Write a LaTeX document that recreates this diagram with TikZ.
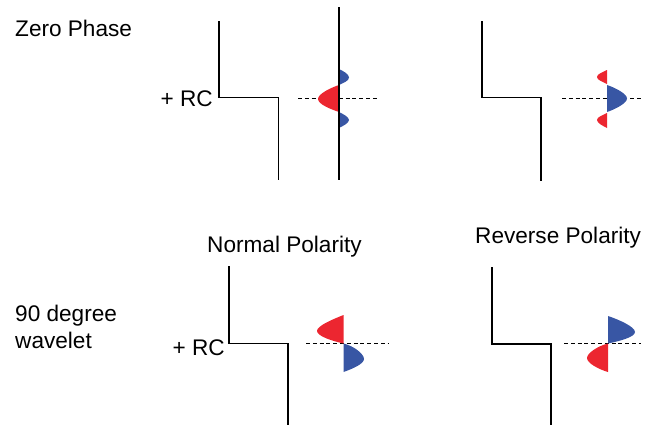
\documentclass[tikz,border=0pt]{standalone}
\usepackage{fontspec}
\setmainfont{Liberation Sans}
\definecolor{lobered}{RGB}{236,38,48}
\definecolor{lobeblue}{RGB}{56,86,164}

\begin{document}
\begin{tikzpicture}[x=1pt, y=-1pt,
    label/.style={font=\fontsize{22.6}{26.5}\selectfont, inner sep=0pt},
    stepline/.style={line width=1.8pt, line join=miter},
    zeroline/.style={dashed, dash pattern=on 4pt off 2.8pt, line width=0.9pt}]
            \useasboundingbox (0, 0) rectangle (651, 426);
            % titles
            \node[label, anchor=base west] (zero) at (15, 36) {Zero Phase};
            \node[label, anchor=north west, align=left] (ninety) at (15, 305) {90 degree\\wavelet};
            \node[label, anchor=base west] (normal) at (207, 252) {Normal Polarity};
            \node[label, anchor=base west] (reverse) at (475, 243) {Reverse Polarity};
            \node[label, anchor=base east] (rcA) at (213, 106) {+ RC};
            \node[label, anchor=base east] (rcB) at (225, 355) {+ RC};
            % reflection steps
            \draw[stepline] (219, 21) -- (219, 97.5) -- (278.5, 97.5) -- (278.5, 180);
            \draw[stepline] (482, 21) -- (482, 97.5) -- (541, 97.5) -- (541, 181);
            \draw[stepline] (229, 266) -- (229, 343.5) -- (288, 343.5) -- (288, 425);
            \draw[stepline] (492, 267) -- (492, 344) -- (551, 344) -- (551, 425);
            % zero lines
            \draw[zeroline] (298, 98.5) -- (379, 98.5);
            \draw[zeroline] (562, 98.5) -- (641, 98.5);
            \draw[zeroline] (306, 343.5) -- (388, 343.5);
            \draw[zeroline] (564, 343.5) -- (641, 343.5);
            % zero phase, normal
            \fill[lobeblue] (339, 69) .. controls (343, 71) and (349, 74) .. (349, 77.5) .. controls (349, 81) and (343, 83) .. (339, 85) -- cycle;
            \fill[lobered] (339, 85) .. controls (330, 88) and (318, 94) .. (318, 99) .. controls (318, 104) and (330, 109) .. (339, 112) -- cycle;
            \fill[lobeblue] (339, 112) .. controls (343, 114) and (349, 117) .. (349, 120) .. controls (349, 123) and (343, 126) .. (339, 128) -- cycle;
            \draw[line width=1.4pt] (339, 7) -- (339, 180);
            % zero phase, reverse
            \fill[lobered] (607, 70) .. controls (603, 72) and (597, 74) .. (597, 77) .. controls (597, 80) and (603, 82) .. (607, 84) -- cycle;
            \fill[lobeblue] (607, 85) .. controls (616, 88) and (627, 94) .. (627, 98.5) .. controls (627, 103) and (616, 109) .. (607, 112) -- cycle;
            \fill[lobered] (607, 113) .. controls (603, 115) and (597, 117) .. (597, 120) .. controls (597, 123) and (603, 126) .. (607, 128) -- cycle;
            % 90 degree, normal
            \fill[lobered] (343.5, 315) .. controls (331, 320) and (317, 326) .. (317, 331) .. controls (317, 336) and (332, 341) .. (343.5, 343.5) -- cycle;
            \fill[lobeblue] (343.5, 343.5) .. controls (354, 346) and (364, 354) .. (364, 359) .. controls (364, 364) and (352, 369) .. (343.5, 372) -- cycle;
            % 90 degree, reverse
            \fill[lobeblue] (608, 316) .. controls (620, 320) and (635, 327) .. (635, 332) .. controls (635, 337) and (620, 341) .. (608, 343.5) -- cycle;
            \fill[lobered] (608, 343.5) .. controls (598, 346) and (587, 353) .. (587, 358) .. controls (587, 363) and (598, 369) .. (608, 372) -- cycle;
        \end{tikzpicture}
\end{document}
